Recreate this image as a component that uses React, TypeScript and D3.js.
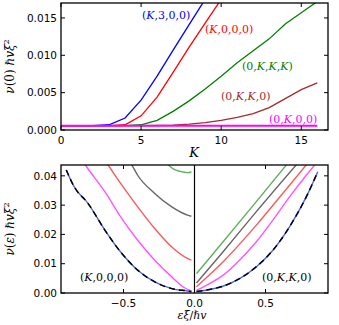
import React from 'react';
import * as d3 from 'd3';

// top panel: nu(0) vs K
const kValues = [0, 1, 2, 3, 4, 5, 6, 7, 8, 9, 10, 11, 12, 13, 14, 15, 16];
const blueK300 = [0.00058, 0.00058, 0.00058, 0.0007, 0.0016, 0.004, 0.0072, 0.0107, 0.0141, 0.0175];
const redK000 = [0.00058, 0.00058, 0.00058, 0.00058, 0.0007, 0.0019, 0.0044, 0.0077, 0.0111, 0.0143, 0.0175];
const green0KKK = [0.00058, 0.00058, 0.00058, 0.00058, 0.00058, 0.0007, 0.0013, 0.0025, 0.0039, 0.0055, 0.0072, 0.009, 0.0106, 0.0122, 0.0142, 0.0157, 0.0172];
const brown0KK0 = [0.00058, 0.00058, 0.00058, 0.00058, 0.00058, 0.00058, 0.0006, 0.00065, 0.0008, 0.001, 0.0013, 0.0017, 0.0022, 0.003, 0.0042, 0.0054, 0.0063];
const magenta0K00 = [0.00058, 0.00058, 0.00058, 0.00058, 0.00058, 0.00058, 0.00058, 0.00058, 0.00058, 0.00058, 0.00058, 0.00058, 0.00058, 0.00058, 0.00058, 0.00058, 0.00058];

const topSeries = [
  { name: 'blue', values: blueK300, color: '#0000ff', width: 1.3 },
  { name: 'red', values: redK000, color: '#ff0000', width: 1.3 },
  { name: 'green', values: green0KKK, color: '#008000', width: 1.3 },
  { name: 'brown', values: brown0KK0, color: '#a52a2a', width: 1.3 },
  { name: 'magenta', values: magenta0K00, color: '#ff00ff', width: 2 },
];
const topXTicks = [0, 5, 10, 15];
const topYTicks = [0, 0.005, 0.01, 0.015];

// bottom panel: nu(eps), left half (K,0,0,0), right half (0,K,K,0)
const leftBlueEps = [-0.903, -0.85, -0.75, -0.63, -0.52, -0.4, -0.28, -0.16, -0.05, -0.022];
const leftBlueNu = [0.042, 0.0365, 0.0306, 0.0214, 0.014, 0.0078, 0.0038, 0.0015, 0.0007, 0.0005];
const leftMagentaEps = [-0.78, -0.76, -0.63, -0.52, -0.4, -0.28, -0.16, -0.07, -0.022];
const leftMagentaNu = [0.0445, 0.0431, 0.0345, 0.026, 0.018, 0.0112, 0.0055, 0.0018, 0.0007];
const leftRedEps = [-0.62, -0.6, -0.52, -0.4, -0.28, -0.16, -0.05, -0.022];
const leftRedNu = [0.0445, 0.0431, 0.0374, 0.0294, 0.022, 0.0157, 0.0118, 0.0112];
const leftGrayEps = [-0.45, -0.434, -0.4, -0.28, -0.16, -0.05, -0.022];
const leftGrayNu = [0.0445, 0.0431, 0.0402, 0.034, 0.0294, 0.0266, 0.0262];
const leftGreenEps = [-0.2, -0.15, -0.1, -0.05, -0.022];
const leftGreenNu = [0.0445, 0.0424, 0.0415, 0.0411, 0.0413];

const rightBlueEps = [0.014, 0.106, 0.2, 0.317, 0.434, 0.552, 0.669, 0.787, 0.868];
const rightBlueNu = [0.0005, 0.0012, 0.0023, 0.0049, 0.0089, 0.0146, 0.0226, 0.0328, 0.0414];
const rightMagentaEps = [0.014, 0.106, 0.2, 0.317, 0.434, 0.552, 0.669, 0.787, 0.86];
const rightMagentaNu = [0.0009, 0.0032, 0.006, 0.0112, 0.0174, 0.0249, 0.0328, 0.0402, 0.0445];
const rightRedEps = [0.014, 0.106, 0.2, 0.434, 0.669, 0.8];
const rightRedNu = [0.0021, 0.0062, 0.0106, 0.0231, 0.0368, 0.0445];
const rightGrayEps = [0.014, 0.2, 0.434, 0.73];
const rightGrayNu = [0.0034, 0.014, 0.0277, 0.0445];
const rightGreenEps = [0.014, 0.2, 0.434, 0.66];
const rightGreenNu = [0.0066, 0.0174, 0.0311, 0.0445];

const botColors = { blue: '#5060f0', magenta: '#ff55ff', red: '#f85c5c', gray: '#666666', green: '#5fb05f' };
const bottomSeries = [
  { eps: leftGreenEps, nu: leftGreenNu, color: botColors.green },
  { eps: leftGrayEps, nu: leftGrayNu, color: botColors.gray },
  { eps: leftRedEps, nu: leftRedNu, color: botColors.red },
  { eps: leftMagentaEps, nu: leftMagentaNu, color: botColors.magenta },
  { eps: leftBlueEps, nu: leftBlueNu, color: botColors.blue },
  { eps: rightGreenEps, nu: rightGreenNu, color: botColors.green },
  { eps: rightGrayEps, nu: rightGrayNu, color: botColors.gray },
  { eps: rightRedEps, nu: rightRedNu, color: botColors.red },
  { eps: rightMagentaEps, nu: rightMagentaNu, color: botColors.magenta },
  { eps: rightBlueEps, nu: rightBlueNu, color: botColors.blue },
];
const dashedSeries = [
  { eps: leftBlueEps, nu: leftBlueNu },
  { eps: rightBlueEps, nu: rightBlueNu },
];
const botXTicks = [-0.5, 0, 0.5];
const botYTicks = [0, 0.01, 0.02, 0.03, 0.04];

const W = 339;
const H = 325;
const TOP = { left: 61, right: 328, top: 3, bottom: 130 };
const BOT = { left: 61, right: 328, top: 165, bottom: 293 };
const TICK = 4;
const tickFont = { fontFamily: 'DejaVu Sans', fontSize: 10.5 };
const mathFont = 'DejaVu Serif';

const Frame = ({ box, xScale, yScale, xTicks, yTicks, xFmt, yFmt }) => (
  <g>
    {xTicks.map((t) => (
      <g key={'x' + t}>
        <line x1={xScale(t)} x2={xScale(t)} y1={box.bottom} y2={box.bottom - TICK} stroke="black" />
        <line x1={xScale(t)} x2={xScale(t)} y1={box.top} y2={box.top + TICK} stroke="black" />
        <text x={xScale(t)} y={box.bottom + 13.5} textAnchor="middle" {...tickFont}>{xFmt(t)}</text>
      </g>
    ))}
    {yTicks.map((t) => (
      <g key={'y' + t}>
        <line x1={box.left} x2={box.left + TICK} y1={yScale(t)} y2={yScale(t)} stroke="black" />
        <line x1={box.right} x2={box.right - TICK} y1={yScale(t)} y2={yScale(t)} stroke="black" />
        <text x={box.left - 4} y={yScale(t)} dy="0.36em" textAnchor="end" {...tickFont}>{yFmt(t)}</text>
      </g>
    ))}
    <rect x={box.left} y={box.top} width={box.right - box.left} height={box.bottom - box.top}
      fill="none" stroke="black" strokeWidth={1.3} />
  </g>
);

const Label = ({ x, y, color, parts }) => (
  <text x={x} y={y} fill={color} fontFamily={mathFont} fontSize={11}>
    {parts.map((p, i) => (
      <tspan key={i} fontStyle={p === 'K' ? 'italic' : 'normal'}>{p}</tspan>
    ))}
  </text>
);

const App = () => {
  const xTop = d3.scaleLinear().domain([0, 16.67]).range([TOP.left, TOP.right]);
  const yTop = d3.scaleLinear().domain([0, 0.017]).range([TOP.bottom, TOP.top]);
  const xBot = d3.scaleLinear().domain([-0.94, 0.94]).range([BOT.left, BOT.right]);
  const yBot = d3.scaleLinear().domain([0, 0.0437]).range([BOT.bottom, BOT.top]);

  const topLine = d3.line<number>()
    .x((d, i) => xTop(kValues[i]))
    .y((d) => yTop(d));

  const botLine = (eps: number[], nu: number[]) =>
    d3.line<number>()
      .x((d) => xBot(d))
      .y((d, i) => yBot(nu[i]))
      .curve(d3.curveMonotoneX)(eps);

  return (
    <div style={{ position: 'absolute', left: 0, top: 0 }}>
      <svg width={W} height={H} style={{ display: 'block' }}>
        <defs>
          <clipPath id="clipTop">
            <rect x={TOP.left} y={TOP.top} width={TOP.right - TOP.left} height={TOP.bottom - TOP.top} />
          </clipPath>
          <clipPath id="clipBot">
            <rect x={BOT.left} y={BOT.top} width={BOT.right - BOT.left} height={BOT.bottom - BOT.top} />
          </clipPath>
        </defs>

        <rect width={W} height={H} fill="white" />

        {/* top panel */}
        <g clipPath="url(#clipTop)">
          {topSeries.map((s) => (
            <path key={s.name} d={topLine(s.values)} fill="none" stroke={s.color} strokeWidth={s.width} />
          ))}
        </g>
        <Frame box={TOP} xScale={xTop} yScale={yTop} xTicks={topXTicks} yTicks={topYTicks}
          xFmt={d3.format('d')} yFmt={d3.format('.3f')} />
        <Label x={142} y={19} color="#0000ff" parts={['(', 'K', ',3,0,0)']} />
        <Label x={205} y={33} color="#ff0000" parts={['(', 'K', ',0,0,0)']} />
        <Label x={242} y={69.5} color="#008000" parts={['(0,', 'K', ',', 'K', ',', 'K', ')']} />
        <Label x={221} y={99.5} color="#a52a2a" parts={['(0,', 'K', ',', 'K', ',0)']} />
        <Label x={269} y={122.5} color="#ff00ff" parts={['(0,', 'K', ',0,0)']} />
        <text x={194} y={157} textAnchor="middle" fontFamily={mathFont} fontStyle="italic" fontSize={13}>K</text>
        <text transform={`translate(14, ${(TOP.top + TOP.bottom) / 2}) rotate(-90)`} textAnchor="middle"
          fontFamily={mathFont} fontSize={12}>
          <tspan fontStyle="italic">ν</tspan>(0) ℏ<tspan fontStyle="italic">vξ</tspan><tspan dy="-5" fontSize={8}>2</tspan>
        </text>

        {/* bottom panel */}
        <g clipPath="url(#clipBot)">
          {bottomSeries.map((s, i) => (
            <path key={i} d={botLine(s.eps, s.nu)} fill="none" stroke={s.color} strokeWidth={1.4} />
          ))}
          {dashedSeries.map((s, i) => (
            <path key={'d' + i} d={botLine(s.eps, s.nu)} fill="none" stroke="black" strokeWidth={1.5}
              strokeDasharray="6,4" />
          ))}
          <line x1={xBot(0)} x2={xBot(0)} y1={BOT.top} y2={BOT.bottom} stroke="black" strokeWidth={1.2} />
        </g>
        <Frame box={BOT} xScale={xBot} yScale={yBot} xTicks={botXTicks} yTicks={botYTicks}
          xFmt={d3.format('.1f')} yFmt={d3.format('.2f')} />
        <Label x={80} y={280.5} color="black" parts={['(', 'K', ',0,0,0)']} />
        <Label x={262} y={280.5} color="black" parts={['(0,', 'K', ',', 'K', ',0)']} />
        <text x={192} y={319} textAnchor="middle" fontFamily={mathFont} fontSize={11}>
          <tspan fontStyle="italic">εξ</tspan>/ℏ<tspan fontStyle="italic">v</tspan>
        </text>
        <text transform={`translate(14, ${(BOT.top + BOT.bottom) / 2}) rotate(-90)`} textAnchor="middle"
          fontFamily={mathFont} fontSize={12}>
          <tspan fontStyle="italic">ν</tspan>(<tspan fontStyle="italic">ε</tspan>) ℏ<tspan fontStyle="italic">vξ</tspan><tspan dy="-5" fontSize={8}>2</tspan>
        </text>
      </svg>
    </div>
  );
};

export default App;
